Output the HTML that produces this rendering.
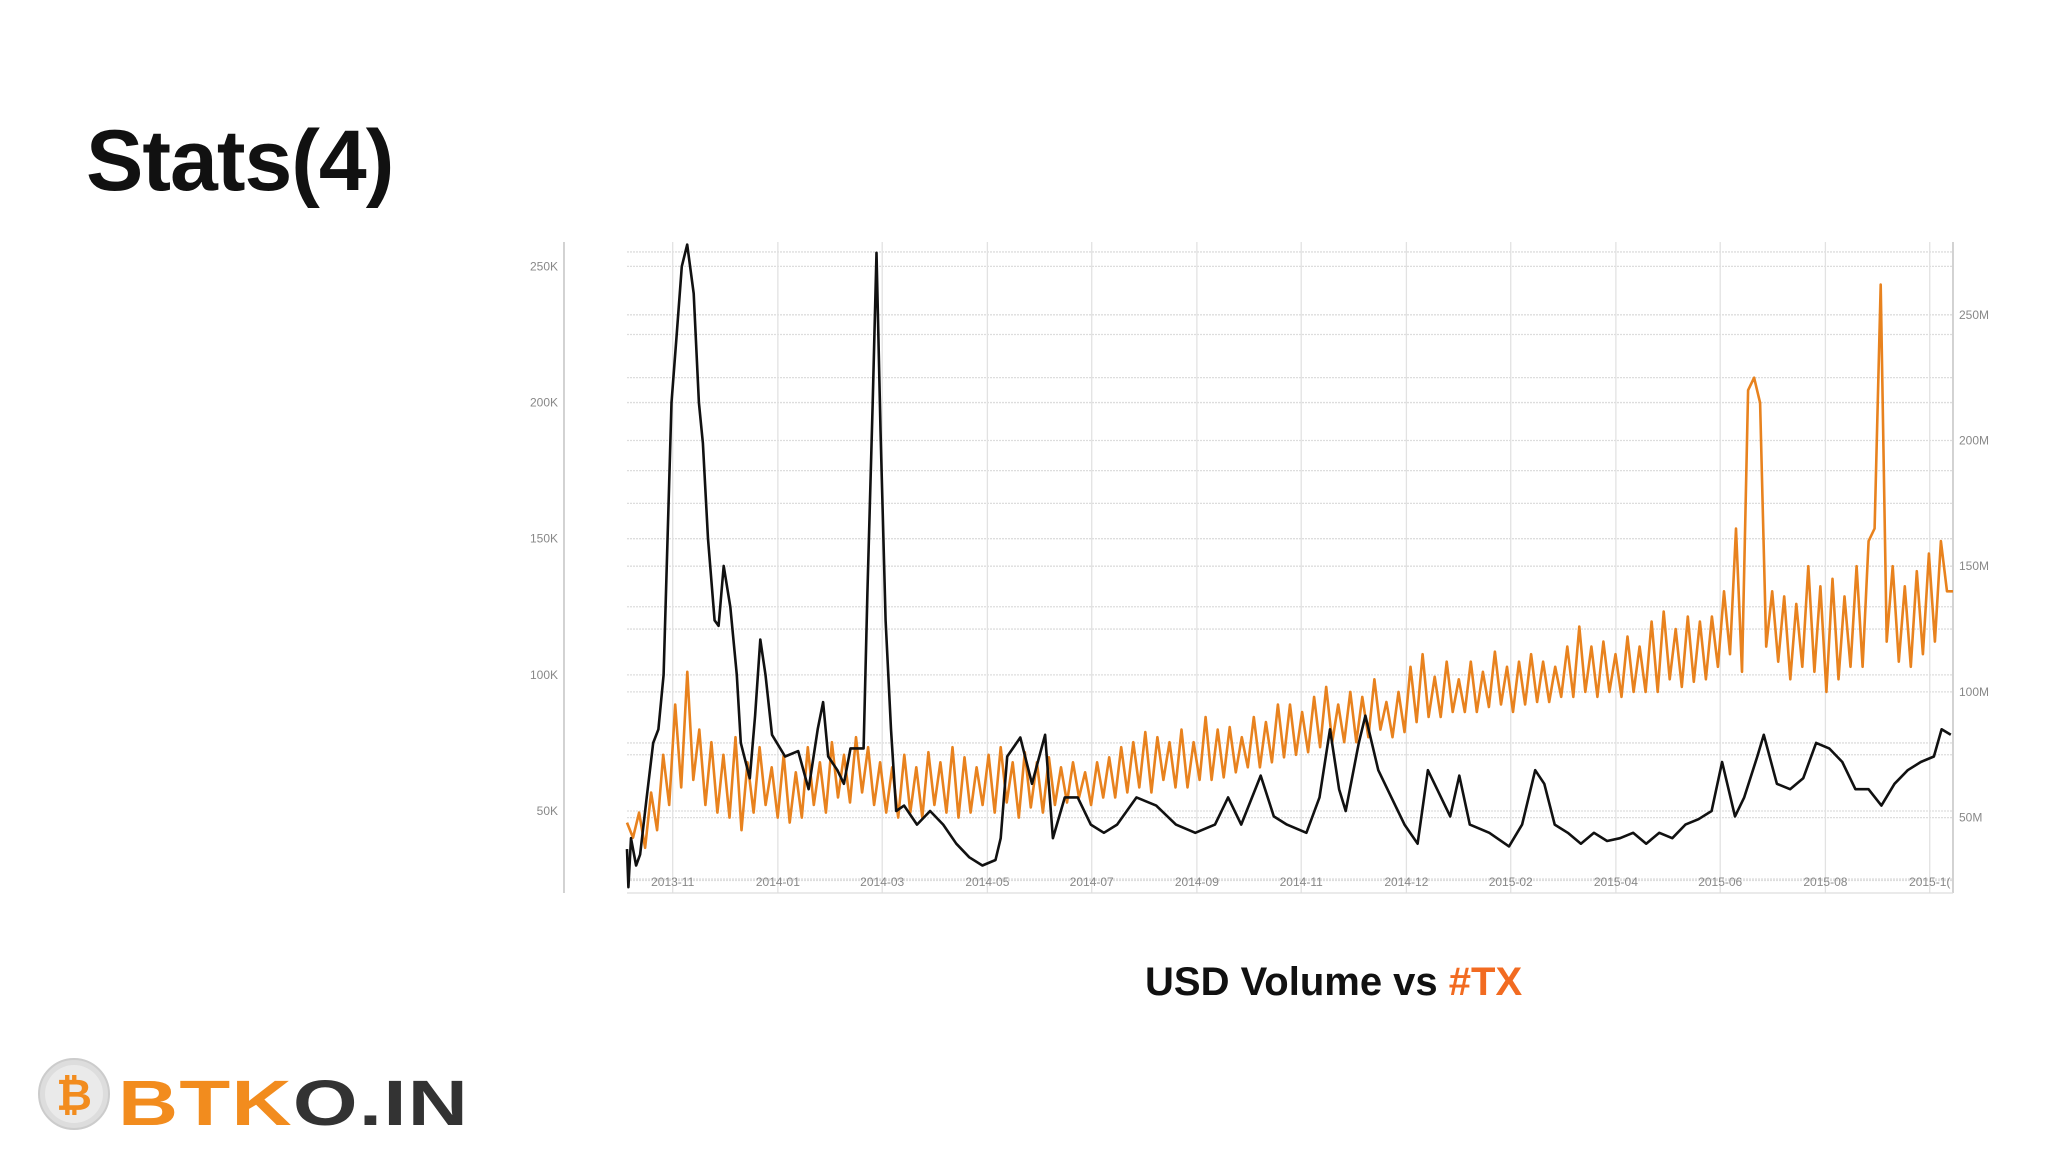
<!DOCTYPE html>
<html><head><meta charset="utf-8">
<style>
html,body{margin:0;padding:0;background:#fff;}
body{width:2048px;height:1152px;position:relative;overflow:hidden;font-family:"Liberation Sans",sans-serif;}
#title{position:absolute;left:86px;top:112px;font-size:86px;font-weight:bold;color:#111;letter-spacing:-1px;}
#subtitle{position:absolute;left:1145px;top:960px;font-size:40px;font-weight:bold;color:#111;}
#subtitle span{color:#f26b21;}
#logo{position:absolute;left:38px;top:1058px;width:460px;height:80px;}
#logo-text{position:absolute;left:80px;top:8px;font-size:64px;font-weight:900;letter-spacing:1px;font-family:"Liberation Sans",sans-serif;transform:scaleX(1.3);transform-origin:0 0;white-space:nowrap;}
</style></head><body>
<div id="title">Stats(4)</div>
<div id="subtitle">USD Volume vs <span>#TX</span></div>
<div id="logo">
  <svg width="80" height="80" style="position:absolute;left:0;top:0">
    <circle cx="36" cy="36" r="35" fill="#ddd" stroke="#ccc" stroke-width="2"/>
    <circle cx="36" cy="36" r="29" fill="#eaeaea"/>
    <text x="36" y="52" text-anchor="middle" font-size="44" font-weight="bold" fill="#f28c1e" font-family="Liberation Sans, sans-serif">₿</text>
  </svg>
  <div id="logo-text"><span style="color:#f28c1e">BTK</span><span style="color:#333">O.IN</span></div>
</div>
<svg id="chart" width="2048" height="1152" style="position:absolute;left:0;top:0"></svg>
<script>
const xLabels=["2013-11","2014-01","2014-03","2014-05","2014-07","2014-09","2014-11","2014-12","2015-02","2015-04","2015-06","2015-08","2015-1("];
const xLabelDays=[26.5,87.5,148,209,269.5,330.5,391,452,512.5,573.5,634,695,755.5];
const leftTicks=[50,100,150,200,250];
const leftTickLabels=["50K","100K","150K","200K","250K"];
const rightTicks=[50,100,150,200,250];
const rightTickLabels=["50M","100M","150M","200M","250M"];
const totalDays=769;
// USD volume (K) - black
const blackDays=[0,0.8,2.3,5.3,7.6,11.4,15.2,18.2,21.2,25.8,28.8,31.8,34.9,38.7,41.7,44,47,50.8,53.1,56.1,59.9,63.7,66,71.2,74.3,77.3,80.3,84.1,91.7,99.3,105.3,110.6,113.7,116.7,122,125.8,129.6,137.2,139.4,142.5,144.7,147,150,153.1,156.1,160.7,168.2,175.8,183.4,191,198.5,206.1,213.7,216.7,220.5,228.1,234.9,242.5,247,253.9,261.4,269,276.6,284.2,295.5,306.9,318.3,329.6,341,348.6,356.2,367.5,375.1,382.7,394,401.6,407.7,413,416.8,424.4,428.2,435.7,443.3,450.9,458.5,464.5,469.8,477.4,482.7,488.8,500.1,511.5,519.1,526.7,532,538,545.6,553.2,560.8,568.4,575.9,583.5,591.1,598.7,606.2,613.8,621.4,629,635.1,642.6,647.9,655.5,659.3,666.9,674.5,682.1,689.6,697.2,704.8,712.4,720,727.5,735.1,742.7,750.3,757.9,762.4,767.7];
const blackVal=[36,22,40,30,34,55,75,80,100,200,225,250,258,240,200,185,150,120,118,140,125,100,75,62,85,113,100,78,70,72,58,80,90,70,65,60,73,73,130,200,255,190,120,80,50,52,45,50,45,38,33,30,32,40,70,77,60,78,40,55,55,45,42,45,55,52,45,42,45,55,45,63,48,45,42,55,80,58,50,75,85,65,55,45,38,65,58,48,63,45,42,37,45,65,60,45,42,38,42,39,40,42,38,42,40,45,47,50,68,48,55,70,78,60,58,62,75,73,68,58,58,52,60,65,68,70,80,78,85];
// #TX (M) - orange, evenly spaced samples across the full date range
const orangeVal=[48,42,52,38,60,45,75,55,95,62,
108,65,85,55,80,52,75,50,82,45,
72,52,78,55,70,50,75,48,68,50,
78,55,72,52,80,58,75,56,82,60,
78,55,72,52,70,50,75,52,70,50,
76,55,72,52,78,50,74,52,70,55,
75,52,78,56,72,50,76,54,72,52,
74,55,70,56,72,58,68,55,72,58,
74,58,78,60,80,62,84,60,82,65,
80,62,85,62,80,65,90,65,85,66,
86,68,82,70,90,70,88,72,95,74,
95,75,92,76,98,78,102,80,95,80,
100,80,98,82,105,85,96,82,100,84,
110,88,115,90,106,90,112,92,105,92,
112,92,108,94,116,95,110,92,112,95,
115,96,112,96,110,98,118,98,126,100,
118,98,120,100,115,98,122,100,118,100,
128,100,132,105,125,102,130,104,128,105,
130,110,140,115,165,108,220,225,215,118,
140,112,138,105,135,110,150,108,142,100,
145,105,138,110,150,110,160,165,262,120,
150,112,142,110,148,115,155,120,160,140,140];

const svg=document.getElementById('chart');
const NS='http://www.w3.org/2000/svg';
const X0=627,X1=1953,YT=242,YB=893,AXL=564;
function xs(d){return X0+(X1-X0)*d/totalDays;}
function yl(v){return 811-(v-50)*2.723;}
function yr(v){return 817.6-(v-50)*2.514;}
function mk(tag,attrs){const e=document.createElementNS(NS,tag);for(const k in attrs)e.setAttribute(k,attrs[k]);svg.appendChild(e);return e;}

for(let v=25;v<=275;v+=25){const y=yl(v);if(y<YT||y>YB)continue;
 const g=mk('line',{x1:X0,x2:X1,y1:y,y2:y,stroke:'#ddd','stroke-width':1.3,'stroke-dasharray':'2,1'});
 
 }
for(let v=25;v<=275;v+=25){const y=yr(v);if(y<YT||y>YB)continue;
 const g=mk('line',{x1:X0,x2:X1,y1:y,y2:y,stroke:'#ddd','stroke-width':1.3,'stroke-dasharray':'2,1'});
 
 }
xLabelDays.forEach((d,i)=>{const x=xs(d);
 const g=mk('line',{x1:x,x2:x,y1:YT,y2:YB,stroke:'#e2e2e2','stroke-width':1.3});
 
 
 const t=mk('text',{x:x,y:886,'text-anchor':'middle','font-size':12,fill:'#888','font-family':'Liberation Sans, sans-serif'});
 t.textContent=xLabels[i];
 
 });
let a=mk('line',{x1:AXL,x2:AXL,y1:YT,y2:YB,stroke:'#bbb','stroke-width':1.3});


a=mk('line',{x1:X1,x2:X1,y1:YT,y2:YB,stroke:'#bbb','stroke-width':1.3});


a=mk('line',{x1:X0,x2:X1,y1:YB,y2:YB,stroke:'#ddd','stroke-width':1.3});


leftTicks.forEach((v,i)=>{const t=mk('text',{x:AXL-6,y:yl(v)+4,'text-anchor':'end','font-size':12,fill:'#888','font-family':'Liberation Sans, sans-serif'});
 t.textContent=leftTickLabels[i];
 
 });
rightTicks.forEach((v,i)=>{const t=mk('text',{x:X1+6,y:yr(v)+4,'text-anchor':'start','font-size':12,fill:'#888','font-family':'Liberation Sans, sans-serif'});
 t.textContent=rightTickLabels[i];
 
 });
let d='';orangeVal.forEach((v,i)=>{const x=xs(totalDays*i/(orangeVal.length-1));d+=(i?'L':'M')+x.toFixed(1)+','+yr(v).toFixed(1);});
let p=mk('path',{d:d,fill:'none',stroke:'#e8821e','stroke-width':2.6,'stroke-linejoin':'round'});


d='';blackVal.forEach((v,i)=>{d+=(i?'L':'M')+xs(blackDays[i]).toFixed(1)+','+yl(v).toFixed(1);});
p=mk('path',{d:d,fill:'none',stroke:'#111','stroke-width':2.6,'stroke-linejoin':'round'});


</script>
</body></html>
